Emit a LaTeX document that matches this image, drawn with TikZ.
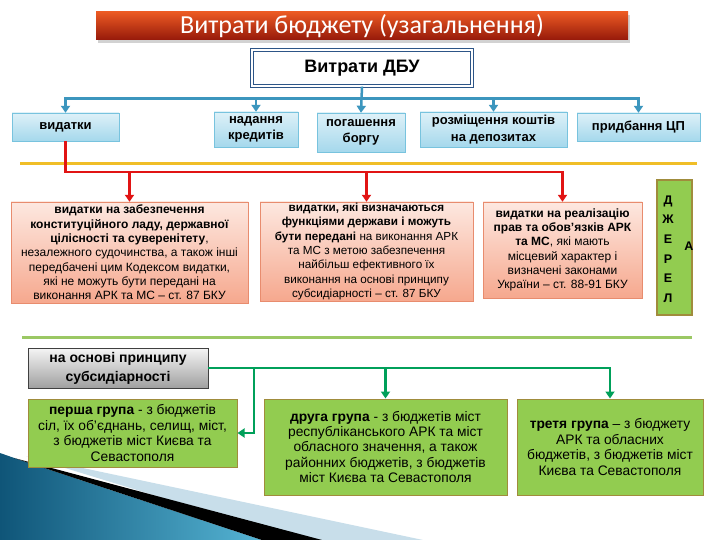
\documentclass[tikz,border=0pt]{standalone}
\usepackage{fontspec}
\setmainfont{Liberation Sans}
\newfontfamily\titlefont{Carlito}
\usetikzlibrary{arrows.meta,shadows}

\definecolor{titletop}{RGB}{235,90,35}
\definecolor{titlebot}{RGB}{150,25,10}
\definecolor{dbublue}{RGB}{45,85,135}
\definecolor{linkblue}{RGB}{60,150,190}
\definecolor{topfill}{RGB}{222,241,248}
\definecolor{topfillb}{RGB}{165,216,236}
\definecolor{topdraw}{RGB}{120,195,222}
\definecolor{goldline}{RGB}{240,190,40}
\definecolor{linkred}{RGB}{225,20,20}
\definecolor{pinktop}{RGB}{253,232,224}
\definecolor{pinkbot}{RGB}{246,168,142}
\definecolor{pinkdraw}{RGB}{232,140,110}
\definecolor{grpfill}{RGB}{146,204,80}
\definecolor{grpdraw}{RGB}{160,140,60}
\definecolor{oliveline}{RGB}{155,200,100}
\definecolor{linkgreen}{RGB}{0,160,90}
\definecolor{greytop}{RGB}{245,245,245}
\definecolor{greybot}{RGB}{160,160,160}
\definecolor{wavedark}{RGB}{15,85,120}
\definecolor{wavelight}{RGB}{85,180,212}
\definecolor{wavepale}{RGB}{200,222,234}

\tikzset{
  sz/.style 2 args={minimum width=#1pt,minimum height=#2pt},
  titlebox/.style={top color=titletop,bottom color=titlebot,inner sep=0pt,
    drop shadow={opacity=0.35,shadow xshift=2pt,shadow yshift=-3pt},
    text=white,font=\titlefont\fontsize{26}{28}\selectfont},
  dbubox/.style={draw=dbublue,double=white,double distance=1.5pt,line width=1.2pt,
    fill=white,inner sep=0pt,font=\bfseries\fontsize{18}{20}\selectfont},
  topbox/.style={draw=topdraw,top color=topfill,bottom color=topfillb,inner sep=0pt,
    align=center,font=\bfseries\fontsize{13}{16.5}\selectfont},
  pinkbox/.style={draw=pinkdraw,top color=pinktop,bottom color=pinkbot,inner sep=0pt,
    align=center,font=\fontsize{12}{14.3}\selectfont},
  grpbox/.style={draw=grpdraw,line width=1pt,fill=grpfill,inner sep=0pt,
    align=center,font=\fontsize{13.8}{15.4}\selectfont},
  greybox/.style={draw=black!75,top color=greytop,bottom color=greybot,inner sep=0pt,
    align=center,font=\bfseries\fontsize{14}{19}\selectfont},
  bluelink/.style={draw=linkblue,line width=2.5pt,-{Triangle[width=9pt,length=7pt]}},
  redlink/.style={draw=linkred,line width=2.5pt,-{Triangle[width=9pt,length=7pt]}},
  greenlink/.style={draw=linkgreen,line width=2.5pt,-{Triangle[width=9pt,length=7pt]}}
}

\begin{document}
\begin{tikzpicture}[x=1pt,y=-1pt]
\useasboundingbox (0,0) rectangle (720,540);
\fill[white] (0,0) rectangle (720,540);

\fill[wavepale] (26,456) -- (423,540) -- (300,540) -- cycle;
\shade[left color=wavedark,right color=wavelight] (0,453) -- (20,460) -- (262,540) -- (0,540) -- cycle;
\fill[black] (14,458) -- (322,540) -- (262,540) -- cycle;

\draw[goldline,line width=3pt] (20,164) -- (697,164);
\draw[oliveline,line width=3pt] (22,337) -- (692,337);

\path (362,26) node[titlebox,sz={532}{28}](title){Витрати бюджету (узагальнення)}
 (362,68) node[dbubox,sz={220}{36}](dbu){Витрати ДБУ}
 (65.5,127) node[topbox,sz={107}{28}](vyd){видатки}
 (256,129.5) node[topbox,sz={84}{35}](kred){надання\\кредитів}
 (361,132.5) node[topbox,sz={88}{39}](borg){погашення\\боргу}
 (493.5,129.5) node[topbox,sz={147}{35}](depoz){розміщення коштів\\на депозитах}
 (638.5,127) node[topbox,sz={123}{28}](cp){придбання ЦП};

\path (129.5,252.5) node[pinkbox,sz={237}{101}](konst){\textbf{видатки на забезпечення}\\\textbf{конституційного ладу, державної}\\\textbf{цілісності та суверенітету},\\незалежного судочинства, а також інші\\передбачені цим Кодексом видатки,\\які не можуть бути передані на\\виконання АРК та МС – ст. 87 БКУ}
 (366.5,251.5) node[pinkbox,font=\fontsize{11.7}{14.3}\selectfont,sz={213}{99}](funk){\textbf{видатки, які визначаються}\\\textbf{функціями держави і можуть}\\\textbf{бути передані} на виконання АРК\\та МС з метою забезпечення\\найбільш ефективного їх\\виконання на основі принципу\\субсидіарності – ст. 87 БКУ}
 (562.5,250) node[pinkbox,sz={159}{96}](prav){\textbf{видатки на реалізацію}\\\textbf{прав та обов'язків АРК}\\\textbf{та МС}, які мають\\місцевий характер і\\визначені законами\\України – ст. 88-91 БКУ};

\path (674.5,247.5) node[grpbox,line width=1.2pt,sz={35}{135}](jerela){}
 (668,249) node[align=center,inner sep=0pt,font=\bfseries\fontsize{12.5}{19.6}\selectfont](jlet){Д\\Ж\\Е\\Р\\Е\\Л}
 (689,246) node[inner sep=0pt,font=\bfseries\fontsize{12.5}{14}\selectfont](jend){А};

\path (118,368) node[greybox,sz={180}{40}](subs){на основі принципу\\субсидіарності}
 (132.5,433) node[grpbox,sz={209}{68}](gr1){\textbf{перша група} - з бюджетів\\сіл, їх об'єднань, селищ, міст,\\з бюджетів міст Києва та\\Севастополя}
 (385.5,447) node[grpbox,sz={243}{96}](gr2){\textbf{друга група} - з бюджетів міст\\республіканського АРК та міст\\обласного значення, а також\\районних бюджетів, з бюджетів\\міст Києва та Севастополя}
 (610,447) node[grpbox,sz={186}{96}](gr3){\textbf{третя група} – з бюджету\\АРК та обласних\\бюджетів, з бюджетів міст\\Києва та Севастополя};

\draw[bluelink] (dbu.south) -- ++(0,12) -| (vyd.north);
\draw[bluelink] (dbu.south) -- ++(0,12) -| (kred.north);
\draw[bluelink] (dbu.south) -- (borg.north);
\draw[bluelink] (dbu.south) -- ++(0,12) -| (depoz.north);
\draw[bluelink] (dbu.south) -- ++(0,12) -| (cp.north);

\draw[redlink] (vyd.south) -- ++(0,31) -| (konst.north);
\draw[redlink] (vyd.south) -- ++(0,31) -| (funk.north);
\draw[redlink] (vyd.south) -- ++(0,31) -| (prav.north);

\draw[greenlink] (subs.east) -- ++(46,0) |- (gr1.east);
\draw[greenlink] (subs.east) -| (gr2.north);
\draw[greenlink] (subs.east) -| (gr3.north);
\end{tikzpicture}
\end{document}
